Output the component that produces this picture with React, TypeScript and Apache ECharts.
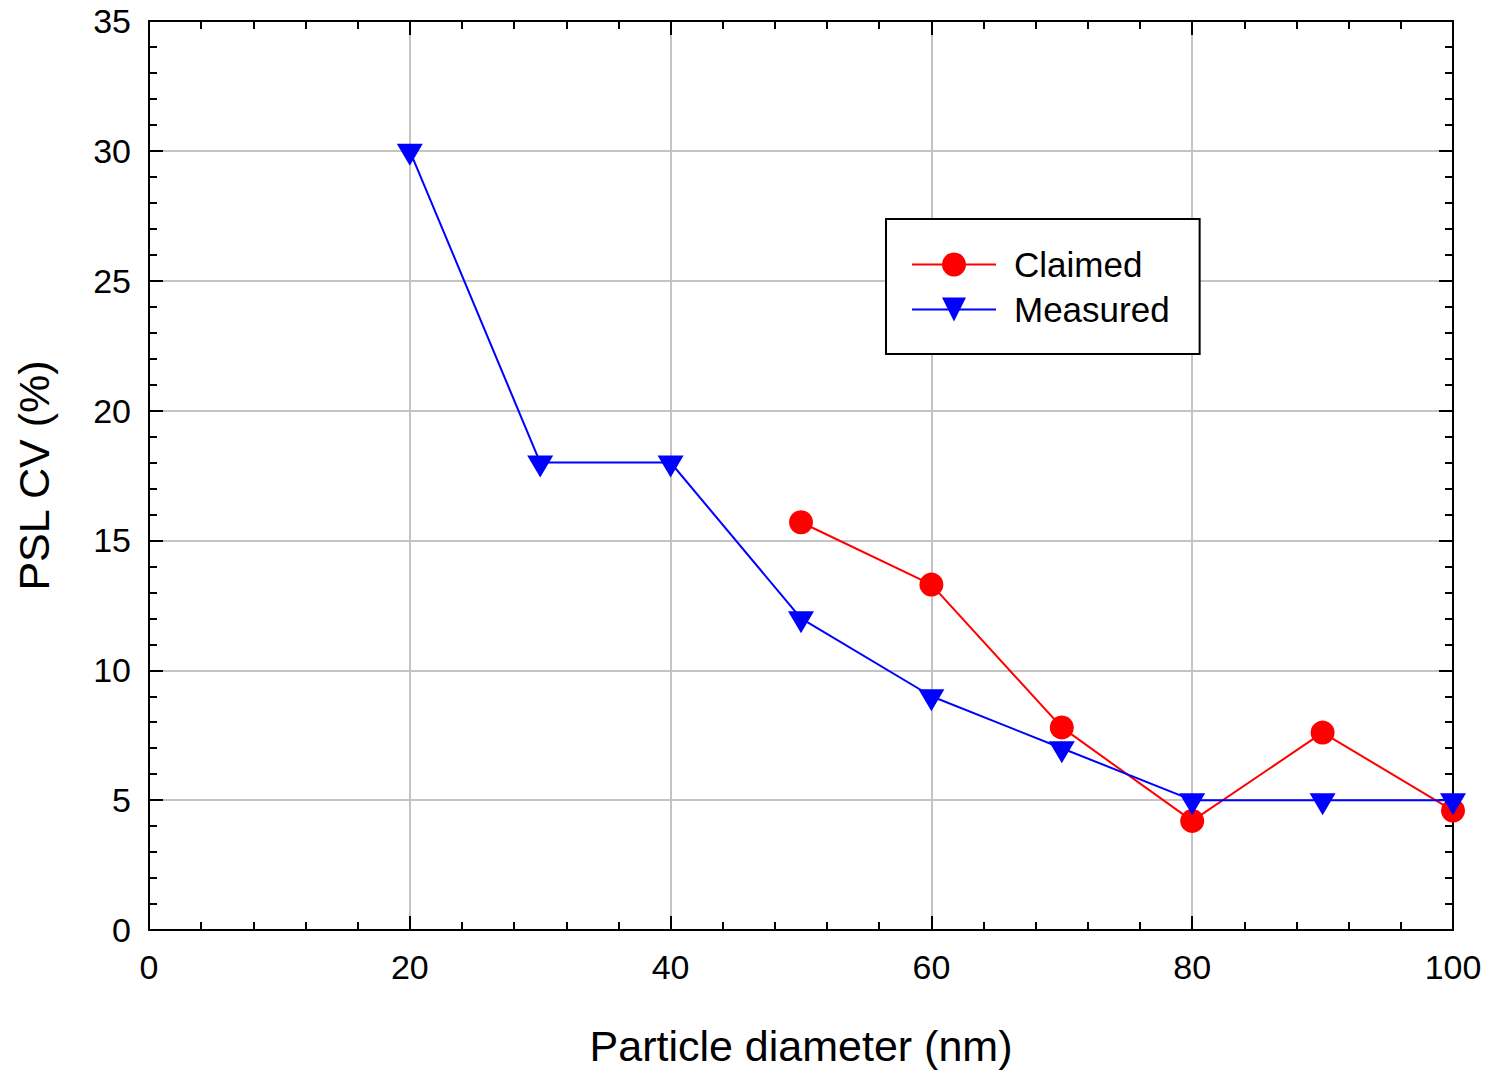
import React, { useEffect, useRef } from "react";
import * as echarts from "echarts";

// Particle diameters (nm) and PSL coefficient of variation (%)
const claimedDiameters = [50, 60, 70, 80, 90, 100];
const claimedCV = [15.7, 13.3, 7.8, 4.2, 7.6, 4.6];
const measuredDiameters = [20, 30, 40, 50, 60, 70, 80, 90, 100];
const measuredCV = [30, 18, 18, 12, 9, 7, 5, 5, 5];

const FONT = "'Liberation Sans', Arial, Helvetica, sans-serif";

const pairs = (xs: number[], ys: number[]) => xs.map((x, i) => [x, ys[i]]);

export default function App() {
  const ref = useRef<HTMLDivElement>(null);

  useEffect(() => {
    if (!ref.current) return;
    const chart = echarts.init(ref.current, undefined, { renderer: "svg" });

    const axisLine = { show: true, onZero: false, lineStyle: { color: "#000", width: 2 } };
    const axisTick = { show: true, inside: true, length: 14, lineStyle: { color: "#000", width: 2 } };
    const minorTick = { show: true, splitNumber: 5, length: 8, lineStyle: { color: "#000", width: 2 } };
    const splitLine = { show: true, lineStyle: { color: "#c4c4c4", width: 2 } };

    chart.setOption({
      animation: false,
      backgroundColor: "#fff",
      grid: { left: 149, top: 21, width: 1304, height: 913, containLabel: false },
      legend: {
        left: 886,
        top: 219,
        orient: "vertical",
        backgroundColor: "#fff",
        borderColor: "#000",
        borderWidth: 2,
        borderRadius: 0,
        padding: [28, 30, 27, 25],
        itemWidth: 84,
        itemHeight: 30,
        itemGap: 10,
        textStyle: { fontFamily: FONT, fontSize: 35, color: "#000", padding: [0, 0, 0, 13] },
        data: ["Claimed", "Measured"],
      },
      xAxis: [
        {
          type: "value",
          position: "bottom",
          min: 0,
          max: 100,
          interval: 20,
          name: "Particle diameter (nm)",
          nameLocation: "middle",
          nameGap: 94,
          nameTextStyle: { fontFamily: FONT, fontSize: 43, color: "#000" },
          axisLine,
          axisTick,
          minorTick,
          splitLine,
          axisLabel: { fontFamily: FONT, fontSize: 34, color: "#000", margin: 20 },
        },
        {
          type: "value",
          position: "top",
          min: 0,
          max: 100,
          interval: 20,
          axisLine,
          axisTick,
          minorTick,
          splitLine: { show: false },
          axisLabel: { show: false },
        },
      ],
      yAxis: [
        {
          type: "value",
          position: "left",
          min: 0,
          max: 35,
          interval: 5,
          name: "PSL CV (%)",
          nameLocation: "middle",
          nameGap: 94,
          nameTextStyle: { fontFamily: FONT, fontSize: 43, color: "#000" },
          axisLine,
          axisTick,
          minorTick,
          splitLine,
          axisLabel: { fontFamily: FONT, fontSize: 34, color: "#000", margin: 18 },
        },
        {
          type: "value",
          position: "right",
          min: 0,
          max: 35,
          interval: 5,
          axisLine,
          axisTick,
          minorTick,
          splitLine: { show: false },
          axisLabel: { show: false },
        },
      ],
      series: [
        {
          name: "Claimed",
          type: "line",
          data: pairs(claimedDiameters, claimedCV),
          symbol: "circle",
          symbolSize: 24,
          showAllSymbol: true,
          itemStyle: { color: "#ff0000" },
          lineStyle: { color: "#ff0000", width: 2 },
          z: 3,
        },
        {
          name: "Measured",
          type: "line",
          data: pairs(measuredDiameters, measuredCV),
          symbol: "triangle",
          symbolRotate: 180,
          symbolSize: [26, 22],
          // centre the triangle's centroid on the data point
          symbolOffset: [0, 4],
          showAllSymbol: true,
          itemStyle: { color: "#0000ff" },
          lineStyle: { color: "#0000ff", width: 2 },
          z: 4,
        },
      ],
    });

    return () => chart.dispose();
  }, []);

  return (
    <div
      ref={ref}
      style={{ position: "fixed", left: 0, top: 0, width: 1491, height: 1072, background: "#fff" }}
    />
  );
}
